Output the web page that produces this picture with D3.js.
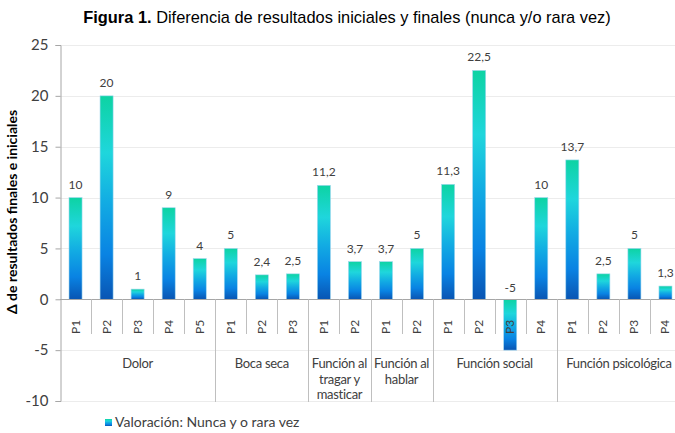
<!DOCTYPE html>
<html>
<head>
<meta charset="utf-8">
<script src="https://cdn.jsdelivr.net/npm/d3@7"></script>
<style>
  body { margin: 0; background: #ffffff; }
  text { font-family: Lato, "Open Sans", sans-serif; }
</style>
</head>
<body>
<div id="chart"></div>
<script>
//Data: groups, their questions and the values
var groupNames = ["Dolor", "Boca seca", "Función al tragar y masticar", "Función al hablar", "Función social", "Función psicológica"];
var groupLines = [["Dolor"], ["Boca seca"], ["Función al", "tragar y", "masticar"], ["Función al", "hablar"], ["Función social"], ["Función psicológica"]];
var questions = [["P1", "P2", "P3", "P4", "P5"], ["P1", "P2", "P3"], ["P1", "P2"], ["P1", "P2"], ["P1", "P2", "P3", "P4"], ["P1", "P2", "P3", "P4"]];
var values = [10, 20, 1, 9, 4, 5, 2.4, 2.5, 11.2, 3.7, 3.7, 5, 11.3, 22.5, -5, 10, 13.7, 2.5, 5, 1.3];
var yTicks = [25, 20, 15, 10, 5, 0, -5, -10];
var seriesName = "Valoración: Nunca y o rara vez";

//Flatten groups into one row per bar
var rows = [];
var k = 0;
questions.forEach(function (qs, g) {
    qs.forEach(function (q) {
        rows.push({ "key": g + "-" + q, "group": g, "label": q, "value": values[k] });
        k++;
    });
});

var width = 675, height = 433;

var svg = d3.select("#chart")
    .append("svg")
    .attr("width", width)
    .attr("height", height);

//Scales
var x = d3.scaleBand()
    .domain(rows.map(function (d) { return d.key; }))
    .range([60, 681])
    .paddingInner(0.58)
    .paddingOuter(0.29);

var y = d3.scaleLinear()
    .domain([-10, 25])
    .range([401, 45]);

var step = x.step();
var left = x.range()[0];
//comma decimals and a plain hyphen for negatives, as in the figure
var locFmt = d3.formatLocale({ decimal: ",", thousands: ".", grouping: [3], currency: ["", ""], minus: "-" }).format("~g");
var fmt = function (v) { return locFmt(v); };

//Gradient for the bars (green at the top, blue at the bottom)
var grad = svg.append("defs")
    .append("linearGradient")
    .attr("id", "barFill")
    .attr("x1", 0).attr("y1", 0)
    .attr("x2", 0).attr("y2", 1);
[["0%", "#0dd3a3"], ["28%", "#1fd6dc"], ["52%", "#12ace3"], ["78%", "#0983e3"], ["100%", "#0955b3"]].forEach(function (s) {
    grad.append("stop").attr("offset", s[0]).attr("stop-color", s[1]);
});

//Gridlines
svg.append("g")
    .selectAll("line")
    .data(yTicks.filter(function (t) { return t !== 0; }))
    .enter()
    .append("line")
    .attr("x1", 60)
    .attr("x2", 681)
    .attr("y1", function (d) { return Math.round(y(d)) + 0.5; })
    .attr("y2", function (d) { return Math.round(y(d)) + 0.5; })
    .attr("stroke", "#ececec");

//Y axis
var yAxis = svg.append("g")
    .attr("transform", "translate(60.5,0)")
    .call(d3.axisLeft(y).tickValues(yTicks).tickSize(5).tickPadding(7).tickFormat(fmt));
yAxis.select(".domain").attr("stroke", "#a6a6a6");
yAxis.selectAll(".tick line").attr("stroke", "#a6a6a6");
yAxis.selectAll(".tick text")
    .attr("fill", "#404040")
    .style("font-size", "15px")
    .style("font-family", "Lato, sans-serif");

//Bars
svg.append("g")
    .selectAll("rect")
    .data(rows)
    .enter()
    .append("rect")
    .attr("x", function (d) { return x(d.key); })
    .attr("y", function (d) { return y(Math.max(d.value, 0)); })
    .attr("width", x.bandwidth())
    .attr("height", function (d) { return Math.abs(y(d.value) - y(0)); })
    .attr("fill", "url(#barFill)")
    .attr("stroke", "#9fd6ef")
    .attr("stroke-width", 0.6);

//Value labels
svg.append("g")
    .selectAll("text")
    .data(rows)
    .enter()
    .append("text")
    .attr("x", function (d) { return x(d.key) + x.bandwidth() / 2; })
    .attr("y", function (d) { return y(Math.max(d.value, 0)) - (d.value < 0 ? 7 : 9); })
    .attr("text-anchor", "middle")
    .attr("font-size", "12px")
    .attr("fill", "#404040")
    .text(function (d) { return fmt(d.value); });

//Zero line
svg.append("line")
    .attr("x1", 60).attr("x2", 681)
    .attr("y1", Math.round(y(0)) + 0.5).attr("y2", Math.round(y(0)) + 0.5)
    .attr("stroke", "#a6a6a6");

//Separators between questions and between groups
var bounds = [];
var start = 0;
questions.forEach(function (qs, g) {
    bounds.push({ "g": g, "from": start, "to": start + qs.length });
    start += qs.length;
});

svg.append("g")
    .selectAll("line")
    .data(d3.range(1, rows.length + 1))
    .enter()
    .append("line")
    .attr("x1", function (i) { return Math.round(left + i * step) + 0.5; })
    .attr("x2", function (i) { return Math.round(left + i * step) + 0.5; })
    .attr("y1", y(0))
    .attr("y2", function (i) {
        var isGroupEnd = bounds.some(function (b) { return b.to === i; });
        return isGroupEnd ? 402 : 334;
    })
    .attr("stroke", "#bfbfbf");

//Question labels (rotated)
svg.append("g")
    .selectAll("text")
    .data(rows)
    .enter()
    .append("text")
    .attr("transform", function (d) { return "translate(" + (x(d.key) + x.bandwidth() / 2 + 4) + ",327) rotate(-90)"; })
    .attr("text-anchor", "middle")
    .attr("font-size", "12px")
    .attr("fill", "#404040")
    .text(function (d) { return d.label; });

//Group labels
var groupText = svg.append("g")
    .selectAll("text")
    .data(bounds)
    .enter()
    .append("text")
    .attr("text-anchor", "middle")
    .attr("font-size", "13px")
    .attr("letter-spacing", "-0.3px")
    .attr("fill", "#404040");

groupText.selectAll("tspan")
    .data(function (b) {
        return groupLines[b.g].map(function (line, i) {
            return { "text": line, "i": i, "cx": left + (b.from + b.to) / 2 * step };
        });
    })
    .enter()
    .append("tspan")
    .attr("x", function (d) { return d.cx; })
    .attr("y", function (d) { return 368 + d.i * 15.7; })
    .text(function (d) { return d.text; });

//Y axis title
svg.append("text")
    .attr("transform", "translate(17,212) rotate(-90)")
    .attr("text-anchor", "middle")
    .attr("font-size", "14px")
    .attr("font-weight", "bold")
    .attr("fill", "#000000")
    .text("Δ de resultados finales e iniciales");

//Chart title
var title = svg.append("text")
    .attr("x", 347)
    .attr("y", 23)
    .attr("text-anchor", "middle")
    .style("font-family", "'Liberation Sans', Arial, sans-serif")
    .attr("font-size", "16.4px")
    .attr("fill", "#000000");
title.append("tspan").attr("font-weight", "bold").text("Figura 1.");
title.append("tspan").text(" Diferencia de resultados iniciales y finales (nunca y/o rara vez)");

//Legend
svg.append("rect")
    .attr("x", 105)
    .attr("y", 419)
    .attr("width", 7)
    .attr("height", 7)
    .attr("fill", "url(#barFill)");

svg.append("text")
    .attr("x", 115)
    .attr("y", 427)
    .attr("font-size", "14px")
    .attr("fill", "#404040")
    .text(seriesName);
</script>
</body>
</html>
